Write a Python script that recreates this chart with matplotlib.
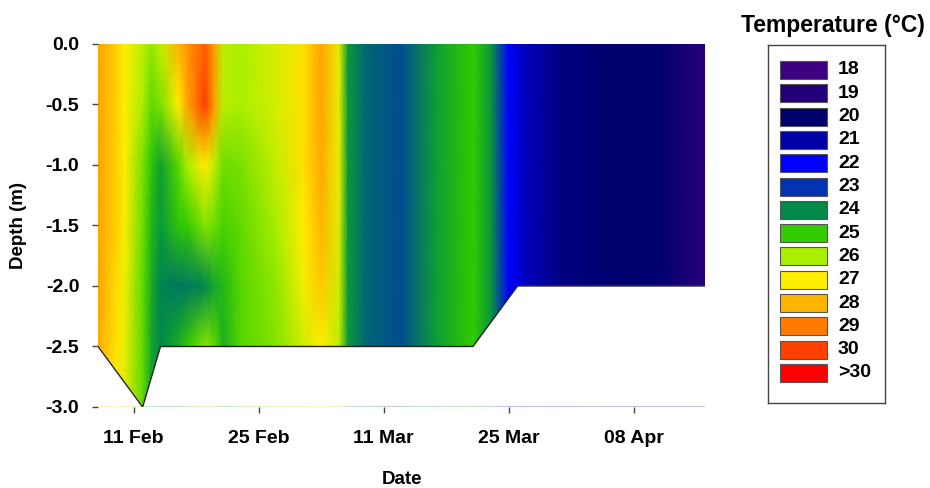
import numpy as np
import matplotlib
matplotlib.use("Agg")
import matplotlib.pyplot as plt
import matplotlib.dates as mdates
from matplotlib.colors import LinearSegmentedColormap
from matplotlib.patches import Rectangle

plt.rcParams['font.family'] = ['Liberation Sans', 'DejaVu Sans']
plt.rcParams['font.weight'] = 'bold'

# sampling days (days after 7 Feb 2019) and depths (m)
start = np.datetime64('2019-02-07')
days = [0, 2, 3, 5, 6, 7, 9, 10, 12, 13, 14, 16, 20, 23, 25, 27, 28, 30, 34, 38, 42, 44, 46, 48, 52, 58, 63, 68]
depths = [0.0, -0.5, -1.0, -1.5, -2.0, -2.5, -3.0]

# temperature profiles (one row per sampling day, columns = depths)
temps = [
    [28.3, 28.3, 28.3, 28.3, 28.3, 28.2, 28.2],
    [27.5, 27.5, 27.5, 27.5, 27.3, 27.2, 27.0],
    [27.0, 27.0, 27.0, 26.9, 26.8, 26.7, 26.5],
    [26.2, 26.0, 25.6, 25.5, 25.4, 25.4, 25.4],
    [25.8, 25.4, 24.9, 24.7, 24.5, 24.4, 24.3],
    [26.3, 25.6, 24.3, 24.2, 23.9, 24.0, 24.0],
    [28.0, 27.0, 25.3, 24.9, 23.8, 24.5, 24.5],
    [28.5, 28.3, 26.0, 25.0, 23.8, 25.0, 25.0],
    [29.5, 30.0, 27.0, 25.7, 24.0, 25.7, 25.7],
    [28.4, 28.4, 26.3, 25.5, 24.4, 25.4, 25.4],
    [26.2, 26.2, 25.5, 25.2, 24.7, 24.6, 24.6],
    [26.0, 26.0, 25.6, 25.4, 25.3, 25.3, 25.3],
    [26.5, 26.5, 26.3, 26.0, 25.8, 25.7, 25.7],
    [27.2, 27.2, 27.2, 27.0, 26.8, 26.4, 26.4],
    [28.3, 28.3, 28.2, 28.0, 27.6, 27.0, 27.0],
    [26.7, 26.7, 26.7, 26.6, 26.4, 26.2, 26.2],
    [24.2, 24.2, 24.2, 24.2, 24.2, 24.2, 24.2],
    [23.6, 23.6, 23.6, 23.6, 23.6, 23.6, 23.6],
    [23.3, 23.3, 23.3, 23.3, 23.3, 23.3, 23.3],
    [24.3, 24.3, 24.3, 24.3, 24.3, 24.3, 24.3],
    [25.0, 25.0, 25.0, 25.0, 25.0, 25.0, 25.0],
    [24.2, 24.2, 24.2, 24.2, 24.2, 24.2, 24.2],
    [22.0, 22.0, 22.0, 22.0, 22.0, 22.0, 22.0],
    [21.2, 21.2, 21.2, 21.2, 21.2, 21.2, 21.2],
    [20.3, 20.3, 20.3, 20.3, 20.3, 20.3, 20.3],
    [20.0, 20.0, 20.0, 20.0, 20.0, 20.0, 20.0],
    [19.9, 19.9, 19.9, 19.9, 19.9, 19.9, 19.9],
    [18.8, 18.8, 18.8, 18.8, 18.8, 18.8, 18.8],
]

# lake bottom profile
bottom_days = [0, 5, 7, 42, 47, 68]
bottom_depth = [-2.5, -3.0, -2.5, -2.5, -2.0, -2.0]

# legend classes
leg_labels = ['18', '19', '20', '21', '22', '23', '24', '25', '26', '27', '28', '29', '30', '>30']
leg_colors = ['#3d0080', '#22007a', '#00006e', '#0000a8', '#0000ff', '#0033b3', '#00894a',
              '#33cc00', '#aaee00', '#ffee00', '#ffb400', '#ff7a00', '#ff4000', '#ff0000']
leg_values = list(range(18, 32))

cmap = LinearSegmentedColormap.from_list(
    'temp', [((v - 18) / 13, c) for v, c in zip(leg_values, leg_colors)])

dates = start + np.array(days).astype('timedelta64[D]')
xnum = mdates.date2num(dates)
X, Y = np.meshgrid(xnum, depths, indexing='ij')
T = np.array(temps)

fig = plt.figure(figsize=(9.3, 4.88), dpi=100)
ax = fig.add_axes([0.1054, 0.166, 0.6527, 0.7439])
ax.pcolormesh(X, Y, T, shading='gouraud', cmap=cmap, vmin=18, vmax=31)

bx = mdates.date2num(start + np.array(bottom_days).astype('timedelta64[D]'))
ax.fill_between(bx, bottom_depth, -2.988, color='white', zorder=3)
ax.plot(bx, bottom_depth, color='#222222', lw=1.0, zorder=4)

ax.set_xlim(xnum[0], xnum[-1])
ax.set_ylim(-3.0, 0.0)
ax.set_yticks([0.0, -0.5, -1.0, -1.5, -2.0, -2.5, -3.0])
ax.set_yticklabels(['0.0', '-0.5', '-1.0', '-1.5', '-2.0', '-2.5', '-3.0'])
tick_dates = ['2019-02-11', '2019-02-25', '2019-03-11', '2019-03-25', '2019-04-08']
ax.set_xticks(mdates.date2num(np.array(tick_dates, dtype='datetime64[D]')))
ax.xaxis.set_major_formatter(mdates.DateFormatter('%d %b'))
for s in ax.spines.values():
    s.set_visible(False)
ax.tick_params(direction='out', length=4.5, width=1, color='#444444', labelsize=14)
ax.tick_params(axis='y', pad=9)
ax.tick_params(axis='x', pad=12)
ax.set_xlabel('Date', fontsize=13.5, fontweight='bold', labelpad=17)
ax.set_ylabel('Depth (m)', fontsize=13.5, fontweight='bold', labelpad=13)

# legend panel
fig.text(0.896, 0.948, 'Temperature (°C)', ha='center', va='center', fontsize=16.5, fontweight='bold')
lax = fig.add_axes([768 / 930, 1 - 403 / 488, 117 / 930, 358 / 488])
lax.set_xlim(0, 117)
lax.set_ylim(358, 0)
lax.set_xticks([])
lax.set_yticks([])
for s in lax.spines.values():
    s.set_color('#444444')
    s.set_linewidth(1)
for i, (lab, col) in enumerate(zip(leg_labels, leg_colors)):
    yc = 25 + i * 23.3
    lax.add_patch(Rectangle((12, yc - 9), 47, 18, facecolor=col, edgecolor='#555555', lw=0.8))
    lax.text(70, yc, lab, va='center', ha='left', fontsize=14, fontweight='bold')

fig.savefig('out.png', dpi=100)
